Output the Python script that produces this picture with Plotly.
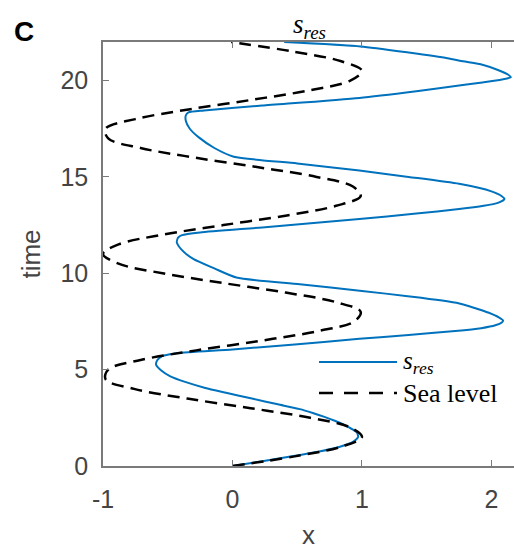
import plotly.graph_objects as go

# Sea level (dashed)
sea_time = [0, 0.5, 1.0, 1.5, 2.0, 2.5, 3.0, 3.5, 4.0, 4.5, 5.0, 5.5, 6.0, 6.5, 7.0, 7.5,
            8.0, 8.5, 9.0, 9.5, 10.0, 10.5, 11.0, 11.5, 12.0, 12.5, 13.0, 13.5, 14.0, 14.5,
            15.0, 15.5, 16.0, 16.5, 17.0, 17.5, 18.0, 18.5, 19.0, 19.5, 20.0, 20.5, 21.0,
            21.5, 22.0]
sea_x = [0, 0.48, 0.84, 1.0, 0.91, 0.6, 0.14, -0.35, -0.76, -0.98, -0.96, -0.71, -0.28,
         0.22, 0.66, 0.94, 0.99, 0.80, 0.41, -0.08, -0.54, -0.88, -1.0, -0.88, -0.54, -0.07,
         0.42, 0.80, 0.99, 0.93, 0.65, 0.20, -0.29, -0.71, -0.96, -0.98, -0.75, -0.34, 0.15,
         0.60, 0.91, 1.0, 0.84, 0.47, -0.01]

# s_res (blue)
sres_time = [0, 0.25, 0.5, 0.75, 1.0, 1.25, 1.5, 1.75, 2.0, 2.15,
             2.35, 2.55, 2.75, 2.95, 3.2, 3.5, 3.8, 4.05, 4.35, 4.65, 4.95, 5.25, 5.5, 5.68, 5.8, 5.87,
             6.05, 6.3, 6.6, 6.8, 7.0, 7.15, 7.3, 7.45, 7.55, 7.7, 7.95, 8.2, 8.47, 8.8, 9.08, 9.43, 9.78,
             10.25, 10.73, 11.2, 11.6, 11.85, 11.98, 12.12, 12.38, 12.81, 13.1, 13.33, 13.5, 13.65, 13.85,
             14.0, 14.25, 14.64, 15.0, 15.33, 15.7, 16.05,
             16.5, 17.05, 17.5, 17.9, 18.2, 18.35, 18.45, 18.7, 19.1, 19.45, 19.74, 19.9, 20.05, 20.17,
             20.3, 20.55, 20.82, 21.0, 21.16, 21.45, 21.77, 22.0]
sres_x = [0, 0.23, 0.46, 0.67, 0.83, 0.93, 0.97, 0.96, 0.90, 0.86,
          0.79, 0.71, 0.62, 0.52, 0.35, 0.15, -0.05, -0.21, -0.36, -0.48, -0.55, -0.59, -0.58, -0.55, -0.48, -0.42,
          0.0, 0.48, 0.98, 1.36, 1.72, 1.92, 2.03, 2.08, 2.09, 2.06, 1.98, 1.87, 1.73, 1.37, 1.0, 0.52, 0.03,
          -0.14, -0.30, -0.39, -0.43, -0.42, -0.39, -0.25, 0.23, 0.98, 1.42, 1.75, 1.94, 2.05, 2.10,
          2.08, 2.0, 1.75, 1.36, 0.98, 0.5, 0.01,
          -0.14, -0.26, -0.33, -0.36, -0.36, -0.34, -0.22, 0.23, 0.98, 1.42, 1.75, 1.93, 2.08, 2.15,
          2.13, 2.05, 1.93, 1.78, 1.66, 1.36, 0.99, 0.40]

x_ticks = [-1, 0, 1, 2]
y_ticks = [0, 5, 10, 15, 20]

BLUE = "#0072BD"
AXIS = "#7a7a7a"
TXT = "#444444"
SANS = "Liberation Sans, Arial"
SERIF = "Liberation Serif, Times New Roman"

W, H = 514, 550
L, T, R, B = 103, 42, 0, 84
pw, ph = W - L - R, H - T - B


def px(xp):
    return (xp - L) / pw


def py(yp):
    return (H - B - yp) / ph


fig = go.Figure()
fig.add_trace(go.Scatter(x=sres_x, y=sres_time, mode="lines", name="s_res",
                         line=dict(color=BLUE, width=2, shape="spline", smoothing=0.6)))
fig.add_trace(go.Scatter(x=sea_x, y=sea_time, mode="lines", name="Sea level",
                         line=dict(color="black", width=2.5, dash="12px,7px",
                                   shape="spline", smoothing=1)))

axis_common = dict(showgrid=False, zeroline=False, showline=True, linecolor=AXIS, linewidth=1.5,
                   ticks="inside", ticklen=6, tickcolor=AXIS, tickwidth=1.2,
                   tickfont=dict(family=SANS, size=25, color=TXT))

fig.update_layout(
    width=W, height=H,
    margin=dict(l=L, r=R, t=T, b=B),
    paper_bgcolor="white", plot_bgcolor="white",
    showlegend=False,
    xaxis=dict(range=[-1, 2.174], tickvals=x_ticks, ticktext=[str(v) for v in x_ticks],
               mirror="ticks", ticklabelstandoff=10,
               title=dict(text="x", font=dict(family=SANS, size=26, color=TXT), standoff=16),
               **axis_common),
    yaxis=dict(range=[0, 22], tickvals=y_ticks, ticktext=[str(v) for v in y_ticks],
               mirror=False, ticklabelstandoff=8,
               title=dict(text="time", font=dict(family=SANS, size=26, color=TXT), standoff=12),
               **axis_common),
)

# Title and panel letter
fig.add_annotation(x=px(309), y=py(26), xref="paper", yref="paper", xanchor="center", yanchor="middle",
                   text="<i>s</i><sub><i>res</i></sub>", showarrow=False,
                   font=dict(family=SERIF, size=27, color="black"))
fig.add_annotation(x=px(24), y=py(32), xref="paper", yref="paper", xanchor="center", yanchor="middle",
                   text="<b>C</b>", showarrow=False, font=dict(family=SANS, size=28, color="black"))

# Manual legend (long line samples as in the original)
fig.add_shape(type="line", xref="paper", yref="paper", x0=px(319), x1=px(397), y0=py(362), y1=py(362),
              line=dict(color=BLUE, width=2))
fig.add_shape(type="line", xref="paper", yref="paper", x0=px(319), x1=px(397), y0=py(393), y1=py(393),
              line=dict(color="black", width=2.5, dash="14px,11px"))
fig.add_annotation(x=px(401), y=py(362), xref="paper", yref="paper", xanchor="left", yanchor="middle",
                   text="<i>s</i><sub><i>res</i></sub>", showarrow=False,
                   font=dict(family=SERIF, size=25, color="black"))
fig.add_annotation(x=px(401), y=py(393), xref="paper", yref="paper", xanchor="left", yanchor="middle",
                   text="Sea level", showarrow=False,
                   font=dict(family=SERIF, size=26, color="black"))

fig.write_html("out.html")
